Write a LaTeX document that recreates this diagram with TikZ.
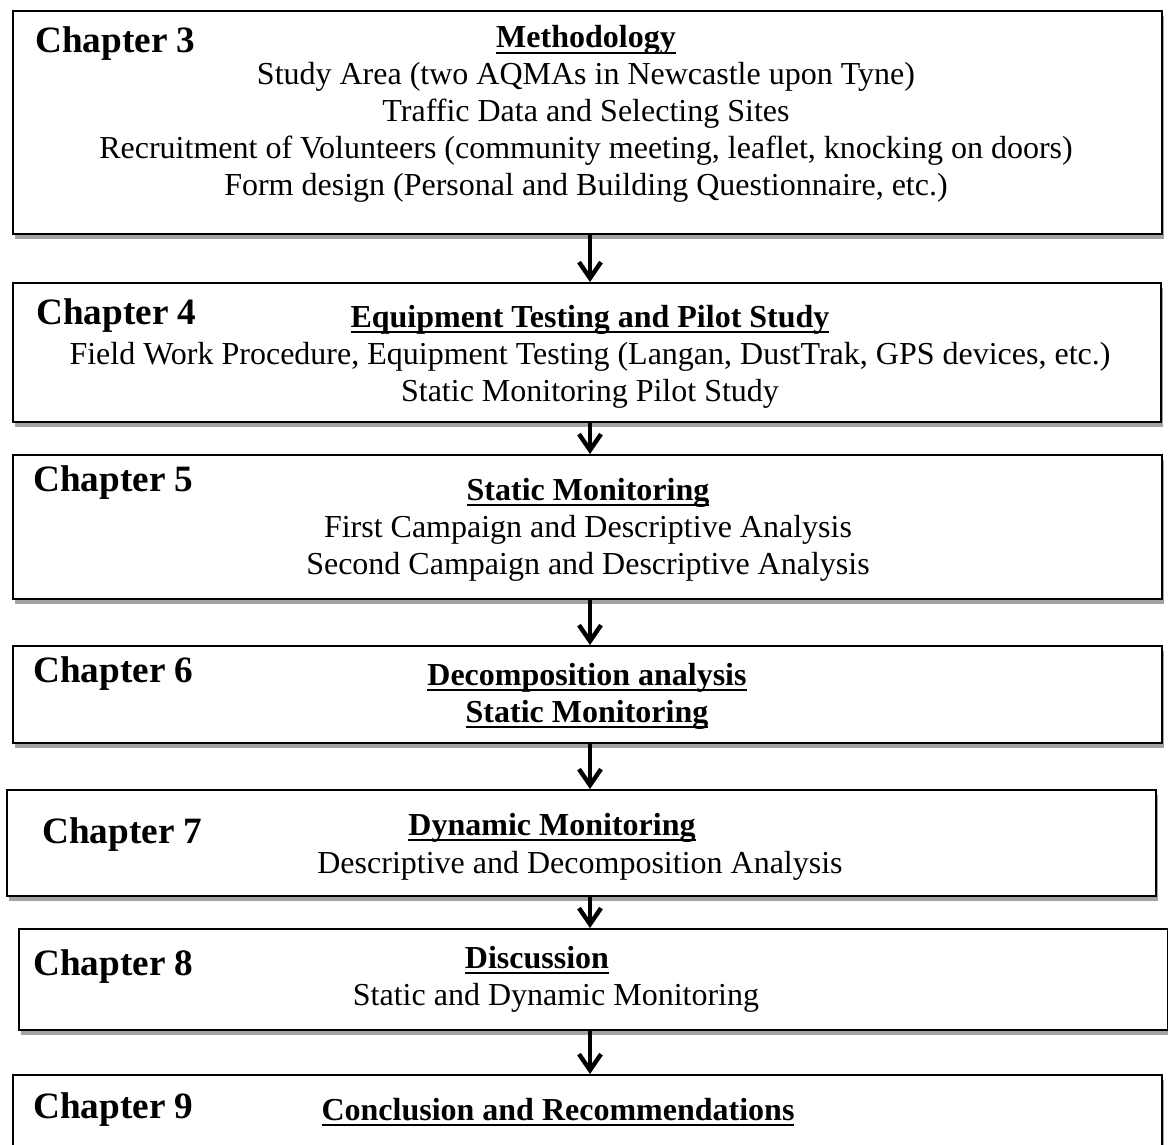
\documentclass[tikz,border=0pt]{standalone}
\usepackage{fontspec}
\setmainfont{Liberation Serif}
\usepackage{tikz}
\usetikzlibrary{arrows.meta, positioning, calc, shadows}
\definecolor{shadowgray}{HTML}{A3A3A3}
\newsavebox{\headbox}
\newcommand{\heading}[1]{\sbox{\headbox}{\textbf{#1}}\leavevmode\rlap{\rule[-3.2pt]{\wd\headbox}{1pt}}\usebox{\headbox}}

\begin{document}
\begin{tikzpicture}[x=0.5pt, y=-0.5pt,
    chapbox/.style={rectangle, draw=black, line width=1pt, fill=white, inner sep=0pt, anchor=north west,
        minimum width=574.5pt, drop shadow={shadow xshift=0.8pt, shadow yshift=-2.6pt, fill=shadowgray, opacity=1}},
    chaplabel/.style={anchor=base west, inner sep=0pt, font=\fontsize{18.6}{22}\selectfont\bfseries},
    bodytext/.style={anchor=base, inner sep=0pt, align=center, font=\fontsize{16}{18.5}\selectfont},
    flow/.style={-{Straight Barb[length=8pt, width=11pt]}, line width=2.2pt}]
    \useasboundingbox (0,0) rectangle (1168,1145);

    % Boxes
    \node[chapbox, minimum height=111.5pt] (ch3) at (12,10) {};
    \node[chapbox, minimum height=69.5pt, minimum width=574pt] (ch4) at (12,282) {};
    \node[chapbox, minimum height=72pt] (ch5) at (12,454) {};
    \node[chapbox, minimum height=48.5pt] (ch6) at (12,645) {};
    \node[chapbox, minimum height=53pt] (ch7) at (6,789) {};
    \node[chapbox, minimum height=50.5pt] (ch8) at (18,928) {};
    \node[chapbox, minimum height=53pt] (ch9) at (12,1074) {};

    % Chapter labels
    \node[chaplabel] (lab3) at (35,53) {Chapter 3};
    \node[chaplabel] (lab4) at (36,324) {Chapter 4};
    \node[chaplabel] (lab5) at (33,491) {Chapter 5};
    \node[chaplabel] (lab6) at (33,682) {Chapter 6};
    \node[chaplabel] (lab7) at (42,843) {Chapter 7};
    \node[chaplabel] (lab8) at (33,975) {Chapter 8};
    \node[chaplabel] (lab9) at (33,1118) {Chapter 9};

    % Titles and contents (placed on the last baseline)
    \node[bodytext] (txt3) at (586,196) {\heading{Methodology}\\
        Study Area (two AQMAs in Newcastle upon Tyne)\\
        Traffic Data and Selecting Sites\\
        Recruitment of Volunteers (community meeting, leaflet, knocking on doors)\\
        Form design (Personal and Building Questionnaire, etc.)};
    \node[bodytext] (txt4) at (590,401) {\heading{Equipment Testing and Pilot Study}\\
        Field Work Procedure, Equipment Testing (Langan, DustTrak, GPS devices, etc.)\\
        Static Monitoring Pilot Study};
    \node[bodytext] (txt5) at (588,574) {\heading{Static Monitoring}\\
        First Campaign and Descriptive Analysis\\
        Second Campaign and Descriptive Analysis};
    \node[bodytext] (txt6) at (587,722) {\heading{Decomposition analysis}\\ \heading{Static Monitoring}};
    \node[bodytext] (head7) at (552,835) {\heading{Dynamic Monitoring}};
    \node[bodytext] (txt7) at (580,873) {Descriptive and Decomposition Analysis};
    \node[bodytext] (head8) at (537,968) {\heading{Discussion}};
    \node[bodytext] (txt8) at (556,1005) {Static and Dynamic Monitoring};
    \node[bodytext] (head9) at (558,1120) {\heading{Conclusion and Recommendations}};

    % Arrows down the page
    \coordinate (spine) at (590,0);
    \foreach \a/\b in {ch3/ch4, ch4/ch5, ch5/ch6, ch6/ch7, ch7/ch8, ch8/ch9}
        \draw[flow] (\a.south -| spine) -- (\b.north -| spine);
\end{tikzpicture}
\end{document}
